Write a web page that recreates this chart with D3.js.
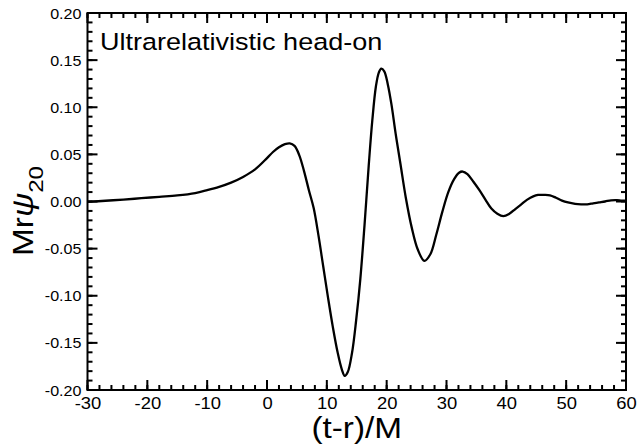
<!DOCTYPE html>
<html><head><meta charset="utf-8">
<script src="https://cdn.jsdelivr.net/npm/d3@7"></script>
<style>
html,body{margin:0;padding:0;background:#fff;}
svg{display:block;font-family:"Liberation Sans",Arial,Helvetica,sans-serif;}
</style></head>
<body>
<svg id="chart" width="638" height="445"></svg>
<script>
const xTicks = [-30,-20,-10,0,10,20,30,40,50,60];
const yTicks = [-0.20,-0.15,-0.10,-0.05,0.00,0.05,0.10,0.15,0.20];
const xMinor = d3.range(-30,60.01,2);
const yMinor = d3.range(-20,20.01,1).map(v=>v/100);
const tValues = [-30,-27,-24,-21,-18,-15,-12,-10,-8,-6,-4,-2,0,1,2,3,3.8,4.6,5.4,6.2,7.0,7.8,8.6,9.4,10.2,11.0,11.8,12.5,13.0,13.5,14.2,14.9,15.6,16.3,17.0,17.6,18.2,18.7,19.1,19.6,20.2,20.8,21.5,22.3,23.2,24.2,25.2,26.3,27.3,28.3,29.3,30.3,31.3,32.1,32.7,33.5,34.5,35.5,36.5,37.5,38.5,39.5,40.5,41.5,42.5,43.5,44.5,45.3,46.3,47.3,48.3,49.3,50.3,51.5,52.5,53.5,54.5,55.5,56.5,57.5,58.5,59.3,60];
const psiValues = [-0.0005,0.0008,0.002,0.0035,0.005,0.0065,0.009,0.012,0.0155,0.020,0.026,0.034,0.046,0.0525,0.0575,0.0608,0.0617,0.059,0.049,0.032,0.012,-0.007,-0.036,-0.069,-0.102,-0.133,-0.160,-0.178,-0.185,-0.181,-0.161,-0.126,-0.082,-0.025,0.038,0.086,0.122,0.137,0.141,0.138,0.124,0.103,0.072,0.040,0.004,-0.028,-0.051,-0.063,-0.056,-0.035,-0.011,0.010,0.024,0.0305,0.0318,0.029,0.021,0.012,0.002,-0.0075,-0.013,-0.0155,-0.013,-0.008,-0.003,0.002,0.0055,0.007,0.007,0.0065,0.004,0.001,-0.001,-0.0025,-0.003,-0.003,-0.002,-0.001,0.0,0.0013,0.0015,0.001,0.001];
const annotation = "Ultrarelativistic head-on";
const xTitle = "(t-r)/M";

const L=87.5, R=626, T=13, B=390;
const svg = d3.select("#chart");
const x = d3.scaleLinear().domain([-30,60]).range([L,R]);
const y = d3.scaleLinear().domain([-0.2,0.2]).range([B,T]);
const SX = 1.15;
const hyph = f => (d => f(d).replace("\u2212","-"));

// tick labels via d3 axes
const gx = svg.append("g").attr("transform",`translate(0,${B})`)
  .call(d3.axisBottom(x).tickValues(xTicks).tickSize(0).tickPadding(0).tickFormat(hyph(d3.format("d"))));
const gy = svg.append("g").attr("transform",`translate(${L},0)`)
  .call(d3.axisLeft(y).tickValues(yTicks).tickSize(0).tickPadding(0).tickFormat(hyph(d3.format(".2f"))));
[gx,gy].forEach(g=>{g.select(".domain").remove(); g.selectAll(".tick line").remove();});

gx.selectAll(".tick text").attr("font-size",16).attr("fill","#000").attr("font-family","Liberation Sans, Arial, sans-serif")
  .attr("dy",null).attr("y",null)
  .attr("transform",`translate(0,18.5) scale(${SX},1)`);
gy.selectAll(".tick text").attr("font-size",14).attr("fill","#000").attr("font-family","Liberation Sans, Arial, sans-serif")
  .attr("x",null).attr("dy",null)
  .attr("transform",`translate(-6,5) scale(${SX},1)`);

// inward ticks on all four sides
const tw = 2;
const tg = svg.append("g").attr("fill","#000");
function addTicks(xv, yv, len){
  xv.forEach(v=>{
    const px = x(v);
    tg.append("rect").attr("x",px-tw/2).attr("y",B-len).attr("width",tw).attr("height",len);
    tg.append("rect").attr("x",px-tw/2).attr("y",T).attr("width",tw).attr("height",len);
  });
  yv.forEach(v=>{
    const py = y(v);
    tg.append("rect").attr("x",L).attr("y",py-tw/2).attr("width",len).attr("height",tw);
    tg.append("rect").attr("x",R-len).attr("y",py-tw/2).attr("width",len).attr("height",tw);
  });
}
addTicks(xMinor, yMinor, 5);
addTicks(xTicks, yTicks, 10);

// frame
svg.append("rect").attr("x",L).attr("y",T).attr("width",R-L).attr("height",B-T)
  .attr("fill","none").attr("stroke","#000").attr("stroke-width",2);

// curve
const pts = tValues.map((t,i)=>[t,psiValues[i]]);
svg.append("path").datum(pts)
  .attr("fill","none").attr("stroke","#000").attr("stroke-width",2.3).attr("stroke-linejoin","round")
  .attr("d", d3.line().x(d=>x(d[0])).y(d=>y(d[1])).curve(d3.curveCatmullRom.alpha(0.5)));

// annotation
svg.append("text").attr("transform",`translate(100,50) scale(${SX},1)`)
  .attr("font-size",23.5).attr("fill","#000").text(annotation);

// x title
svg.append("text").attr("transform",`translate(${(L+R)/2},438) scale(${SX},1)`)
  .attr("text-anchor","middle").attr("font-size",29).attr("fill","#000").text(xTitle);

// y title
const yt = svg.append("text").attr("transform",`translate(33,211) rotate(-90) scale(${SX},1)`)
  .attr("text-anchor","middle").attr("font-size",29).attr("fill","#000");
yt.append("tspan").text("Mr");
yt.append("tspan").attr("font-style","italic").text("ψ");
yt.append("tspan").attr("font-size",21).attr("dy",10).text("20");
</script>
</body></html>
